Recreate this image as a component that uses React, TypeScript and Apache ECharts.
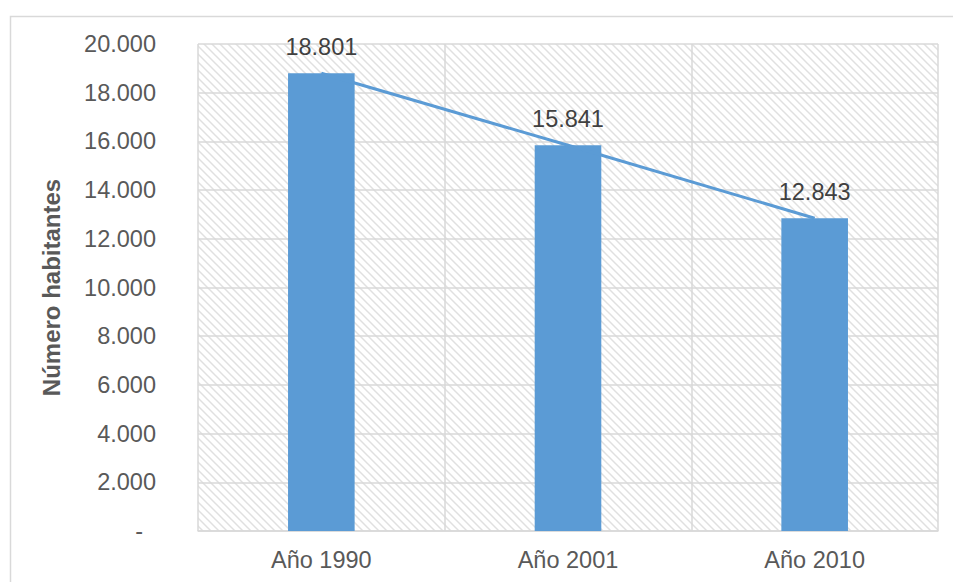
import React, { useEffect, useRef } from "react";
import * as echarts from "echarts";

const categories = ["Año 1990", "Año 2001", "Año 2010"];
const habitantes = [18801, 15841, 12843];
const yAxisTitle = "Número habitantes";

const fmt = (v: number) =>
  String(Math.round(v)).replace(/\B(?=(\d{3})+(?!\d))/g, ".");

function makeHatch() {
  const c = document.createElement("canvas");
  c.width = 8;
  c.height = 8;
  const ctx = c.getContext("2d")!;
  ctx.fillStyle = "#ffffff";
  ctx.fillRect(0, 0, 8, 8);
  ctx.strokeStyle = "#e0e0e0";
  ctx.lineWidth = 1.5;
  ctx.beginPath();
  ctx.moveTo(-1, -1);
  ctx.lineTo(9, 9);
  ctx.moveTo(-1, 7);
  ctx.lineTo(1, 9);
  ctx.moveTo(7, -1);
  ctx.lineTo(9, 1);
  ctx.stroke();
  return c;
}

export default function App() {
  const ref = useRef<HTMLDivElement>(null);
  useEffect(() => {
    document.body.style.margin = "0";
    const chart = echarts.init(ref.current!, null, { renderer: "svg" });
    const font = "Liberation Sans, Arial, sans-serif";
    const fs = 23.5;
    chart.setOption({
      animation: false,
      backgroundColor: "#ffffff",
      textStyle: { fontFamily: font },
      graphic: [
        {
          type: "rect",
          left: 8,
          top: 14,
          shape: { width: 960, height: 600 },
          style: { fill: "none", stroke: "#d9d9d9", lineWidth: 1.5 },
          silent: true,
        },
      ],
      grid: {
        left: 198,
        right: 15,
        top: 44,
        bottom: 51,
        show: true,
        borderWidth: 0,
        backgroundColor: {
          image: makeHatch(),
          repeat: "repeat",
          imageWidth: 8,
          imageHeight: 8,
        } as any,
      },
      xAxis: {
        type: "category",
        data: categories,
        axisLine: { lineStyle: { color: "#d9d9d9", width: 1.5 } },
        axisTick: { show: false },
        axisLabel: { color: "#595959", fontSize: fs, margin: 17, fontFamily: font },
        splitLine: { show: true, lineStyle: { color: "#d9d9d9", width: 1.5 } },
      },
      yAxis: {
        type: "value",
        min: 0,
        max: 20000,
        interval: 2000,
        name: yAxisTitle,
        nameLocation: "middle",
        nameGap: 135,
        nameTextStyle: { color: "#595959", fontSize: 24, fontWeight: "bold", fontFamily: font },
        axisLine: { show: false },
        axisTick: { show: false },
        axisLabel: {
          color: "#595959",
          fontSize: fs,
          margin: 42,
          fontFamily: font,
          formatter: (v: number) => (v === 0 ? "{d|-}" : fmt(v)),
          rich: { d: { color: "#595959", fontSize: fs, padding: [0, 13, 0, 0], fontFamily: font } },
        },
        splitLine: { lineStyle: { color: "#d9d9d9", width: 1.5 } },
      },
      series: [
        {
          type: "bar",
          data: habitantes,
          barWidth: "27%",
          itemStyle: { color: "#5b9bd5" },
          label: {
            show: true,
            position: "top",
            distance: 14,
            color: "#404040",
            fontSize: fs,
            fontFamily: font,
            formatter: (p: any) => fmt(p.value),
          },
          z: 2,
        },
        {
          type: "line",
          data: habitantes,
          symbol: "none",
          lineStyle: { color: "#5b9bd5", width: 3 },
          z: 3,
        },
      ],
    });
    return () => chart.dispose();
  }, []);
  return <div ref={ref} style={{ width: 953, height: 582 }} />;
}
